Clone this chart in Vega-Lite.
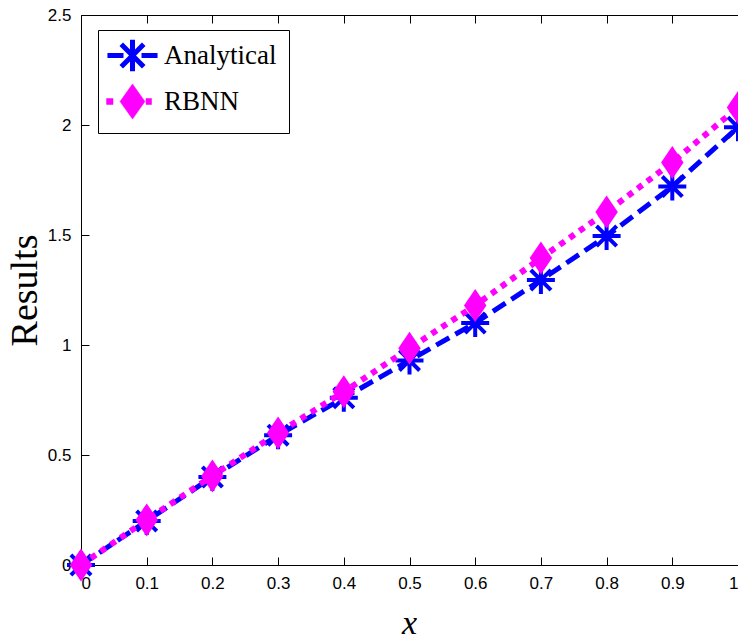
{
  "$schema": "https://vega.github.io/schema/vega-lite/v6.json",
  "width": 657,
  "height": 550,
  "autosize": {"type": "none"},
  "padding": {"left": 81, "top": 15, "right": 0, "bottom": 74},
  "background": "white",
  "config": {
    "view": {"stroke": "black", "strokeWidth": 1},
    "axis": {
      "grid": false,
      "domain": false,
      "tickColor": "black",
      "tickSize": -8,
      "labelColor": "black",
      "labelFont": "Liberation Sans",
      "labelFontSize": 17,
      "titleColor": "black"
    }
  },
  "data": {
    "values": [
      {"x": 0.0, "y": 0.0, "series": "Analytical"},
      {"x": 0.1, "y": 0.2, "series": "Analytical"},
      {"x": 0.2, "y": 0.4, "series": "Analytical"},
      {"x": 0.3, "y": 0.59, "series": "Analytical"},
      {"x": 0.4, "y": 0.76, "series": "Analytical"},
      {"x": 0.5, "y": 0.93, "series": "Analytical"},
      {"x": 0.6, "y": 1.1, "series": "Analytical"},
      {"x": 0.7, "y": 1.295, "series": "Analytical"},
      {"x": 0.8, "y": 1.495, "series": "Analytical"},
      {"x": 0.9, "y": 1.72, "series": "Analytical"},
      {"x": 1.0, "y": 1.99, "series": "Analytical"},
      {"x": 0.0, "y": 0.0, "series": "RBNN"},
      {"x": 0.1, "y": 0.205, "series": "RBNN"},
      {"x": 0.2, "y": 0.405, "series": "RBNN"},
      {"x": 0.3, "y": 0.6, "series": "RBNN"},
      {"x": 0.4, "y": 0.787, "series": "RBNN"},
      {"x": 0.5, "y": 0.985, "series": "RBNN"},
      {"x": 0.6, "y": 1.18, "series": "RBNN"},
      {"x": 0.7, "y": 1.395, "series": "RBNN"},
      {"x": 0.8, "y": 1.605, "series": "RBNN"},
      {"x": 0.9, "y": 1.83, "series": "RBNN"},
      {"x": 1.0, "y": 2.08, "series": "RBNN"}
    ]
  },
  "encoding": {
    "y": {
      "field": "y",
      "type": "quantitative",
      "scale": {"domain": [0, 2.5], "nice": false, "zero": false},
      "axis": {
        "values": [0, 0.5, 1, 1.5, 2, 2.5],
        "format": "~g",
        "labelPadding": 18,
        "title": "Results",
        "titleFont": "Liberation Serif",
        "titleFontSize": 38,
        "titleFontWeight": "normal",
        "titleAngle": -90,
        "titleBaseline": "alphabetic",
        "titleAlign": "center",
        "titleX": -45,
        "titleY": 275
      }
    }
  },
  "layer": [
    {
      "transform": [{"filter": "datum.series === 'Analytical'"}],
      "mark": {
        "type": "line",
        "strokeWidth": 5,
        "strokeDash": [15, 7],
        "strokeCap": "butt",
        "clip": false,
        "point": {
          "shape": "M0,-1L0,1M-1,0L1,0M-0.72,-0.72L0.72,0.72M-0.72,0.72L0.72,-0.72",
          "filled": false,
          "size": 784,
          "strokeWidth": 4,
          "opacity": 1
        }
      },
      "encoding": {
        "x": {
          "field": "x",
          "type": "quantitative",
          "scale": {"domain": [0, 1], "nice": false, "zero": false},
          "axis": {
            "orient": "bottom",
            "values": [0, 0.1, 0.2, 0.3, 0.4, 0.5, 0.6, 0.7, 0.8, 0.9, 1],
            "format": "~g",
            "labelPadding": 18,
            "title": "x",
            "titleFont": "Liberation Serif",
            "titleFontSize": 34,
            "titleFontStyle": "italic",
            "titleFontWeight": "normal",
            "titleBaseline": "alphabetic",
            "titleX": 328,
            "titleY": 68
          }
        },
        "color": {
          "field": "series",
          "type": "nominal",
          "scale": {"domain": ["Analytical", "RBNN"], "range": ["#0000ff", "#ff00ff"]},
          "legend": {
            "orient": "none",
            "legendX": 17,
            "legendY": 15,
            "title": null,
            "strokeColor": "black",
            "fillColor": "white",
            "padding": 12,
            "symbolSize": 900,
            "rowPadding": 0,
            "labelFont": "Liberation Serif",
            "labelFontSize": 27,
            "labelColor": "black",
            "labelOffset": 18,
            "symbolOffset": 9,
            "labelLimit": 300,
            "encode": {
              "symbols": {
                "update": {
                  "shape": {"signal": "datum.value === 'RBNN' ? 'M-1.73,-0.2L-1.3,-0.2L-1.3,0.2L-1.73,0.2ZM0.9,-0.2L1.27,-0.2L1.27,0.2L0.9,0.2ZM0,-1.17L0.83,0L0,1.17L-0.83,0Z' : 'M-1.67,0L-0.6,0M0.6,0L1.67,0M0,-1.05L0,1.05M-0.75,-0.75L0.75,0.75M-0.75,0.75L0.75,-0.75'"},
                  "fill": {"signal": "datum.value === 'RBNN' ? '#ff00ff' : 'transparent'"},
                  "stroke": {"signal": "datum.value === 'RBNN' ? '#ff00ff' : '#0000ff'"},
                  "strokeWidth": {"signal": "datum.value === 'RBNN' ? 0.5 : 5"},
                  "opacity": {"value": 1}
                }
              }
            }
          }
        }
      }
    },
    {
      "transform": [{"filter": "datum.series === 'RBNN'"}],
      "mark": {
        "type": "line",
        "strokeWidth": 6,
        "strokeDash": [6, 6],
        "strokeCap": "butt",
        "clip": false,
        "point": {
          "shape": "M0,-1L0.68,0L0,1L-0.68,0Z",
          "filled": true,
          "size": 1089,
          "opacity": 1
        }
      },
      "encoding": {
        "x": {
          "field": "x",
          "type": "quantitative",
          "scale": {"domain": [0, 1], "nice": false, "zero": false},
          "axis": {
            "orient": "top",
            "values": [0, 0.1, 0.2, 0.3, 0.4, 0.5, 0.6, 0.7, 0.8, 0.9, 1],
            "labels": false,
            "title": null
          }
        },
        "color": {"field": "series", "type": "nominal"}
      }
    }
  ],
  "resolve": {"axis": {"x": "independent"}}
}
